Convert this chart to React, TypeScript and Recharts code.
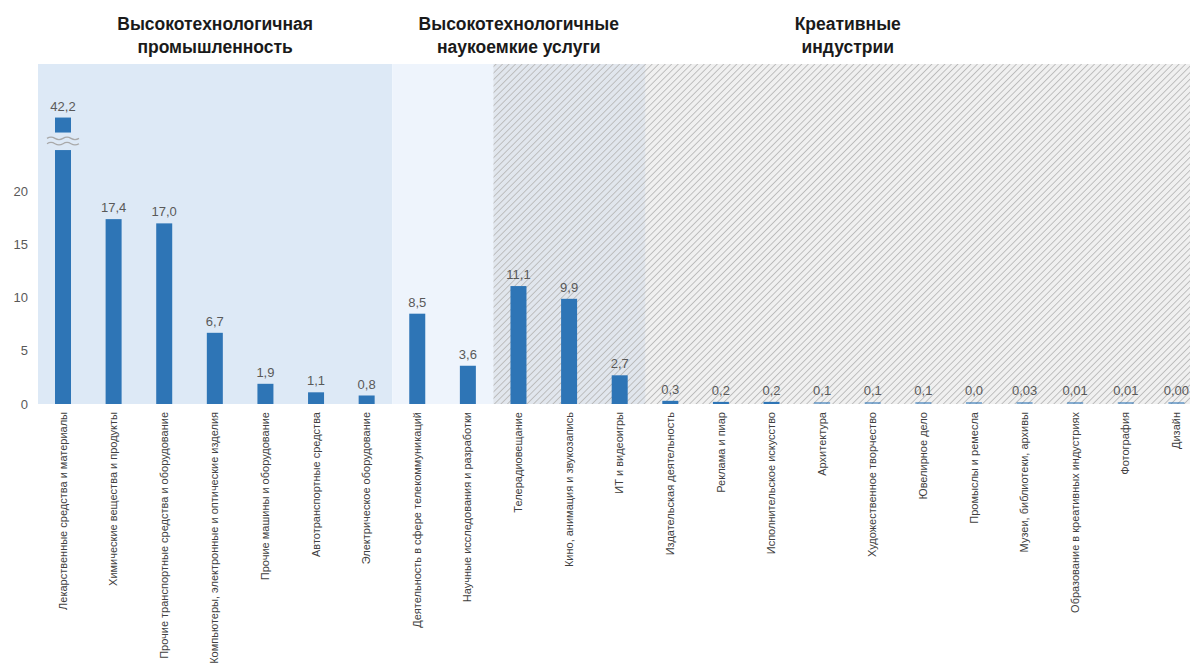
import { Bar, BarChart, LabelList, ReferenceArea, XAxis, YAxis } from 'recharts';

// categories, left to right
const categories = [
  'Лекарственные средства и материалы',
  'Химические вещества и продукты',
  'Прочие транспортные средства и оборудование',
  'Компьютеры, электронные и оптические изделия',
  'Прочие машины и оборудование',
  'Автотранспортные средства',
  'Электрическое оборудование',
  'Деятельность в сфере телекоммуникаций',
  'Научные исследования и разработки',
  'Телерадиовещание',
  'Кино, анимация и звукозапись',
  'ИТ и видеоигры',
  'Издательская деятельность',
  'Реклама и пиар',
  'Исполнительское искусство',
  'Архитектура',
  'Художественное творчество',
  'Ювелирное дело',
  'Промыслы и ремесла',
  'Музеи, библиотеки, архивы',
  'Образование в креативных индустриях',
  'Фотография',
  'Дизайн',
];

const values = [
  42.2, 17.4, 17.0, 6.7, 1.9, 1.1, 0.8, 8.5, 3.6, 11.1, 9.9, 2.7, 0.3, 0.2, 0.2, 0.1, 0.1, 0.1, 0.0, 0.03, 0.01, 0.01, 0.0,
];

const decimals = [1, 1, 1, 1, 1, 1, 1, 1, 1, 1, 1, 1, 1, 1, 1, 1, 1, 1, 1, 2, 2, 2, 2];

const yTicks = [0, 5, 10, 15, 20];

// group spans: index of first and last category
const groupIndustry = { first: 0, last: 6, title: ['Высокотехнологичная', 'промышленность'] };
const groupServices = { first: 7, last: 11, title: ['Высокотехнологичные', 'наукоемкие услуги'] };
const groupCreative = { first: 9, last: 22, title: ['Креативные', 'индустрии'] };

// axis break for the tall bar
const Y_MAX = 32;
const BREAK_LOW = 23.9;
const BREAK_BLOCK_BOTTOM = 25.55;
const BREAK_BLOCK_TOP = 26.96;
const WAVE_A = 25.0;
const WAVE_B = 24.5;

const data = categories.map((name, i) => ({ name, value: values[i] }));

const FONT = '"Liberation Sans", Arial, sans-serif';
const BAR_COLOR = '#2e75b6';

const CHART_W = 1202;
const CHART_H = 664;
const Y_AXIS_W = 38;
const TOP = 64;
const BAND = (CHART_W - Y_AXIS_W) / categories.length;

const fmt = (v: number, d: number) => v.toFixed(d).replace('.', ',');

function BrokenBar(props: any) {
  const { x, y, width, height, value } = props;
  const v = Array.isArray(value) ? value[1] : value;
  if (v <= Y_MAX) {
    // very small values come out as a faint hairline in the original
    const faint = v < 0.15;
    return <rect x={x} y={y} width={width} height={height} fill={BAR_COLOR} fillOpacity={faint ? 0.55 : 1} />;
  }
  const zeroY = y + height;
  const unit = height / v;
  const at = (val: number) => zeroY - val * unit;
  const wave = (cy: number) => {
    const x0 = x - 8;
    const x1 = x + width + 8;
    const w = (x1 - x0) / 4;
    return `M${x0},${cy} q${w / 2},-2.5 ${w},0 t${w},0 t${w},0 t${w},0`;
  };
  return (
    <g>
      <rect x={x} y={at(BREAK_LOW)} width={width} height={zeroY - at(BREAK_LOW)} fill={BAR_COLOR} />
      <rect
        x={x}
        y={at(BREAK_BLOCK_TOP)}
        width={width}
        height={at(BREAK_BLOCK_BOTTOM) - at(BREAK_BLOCK_TOP)}
        fill={BAR_COLOR}
      />
      <path d={wave(at(WAVE_A))} stroke="#a9a9a9" strokeWidth={1.3} fill="none" />
      <path d={wave(at(WAVE_B))} stroke="#a9a9a9" strokeWidth={1.3} fill="none" />
    </g>
  );
}

function ValueLabel(props: any) {
  const vb = props.viewBox ?? props;
  const { x, y, width, height } = vb;
  const idx = props.index;
  const v = values[idx];
  let top = y;
  if (v > Y_MAX) {
    const zeroY = y + height;
    top = zeroY - BREAK_BLOCK_TOP * (height / v);
  }
  return (
    <text
      x={x + width / 2}
      y={top - 7}
      textAnchor="middle"
      fill="#595959"
      fontSize={13}
      fontFamily={FONT}
    >
      {fmt(v, decimals[idx])}
    </text>
  );
}

function CategoryTick(props: any) {
  const { x, y, payload } = props;
  return (
    <text
      x={x}
      y={y}
      transform={`rotate(-90, ${x}, ${y})`}
      textAnchor="end"
      dy="0.3em"
      fill="#404040"
      fontSize={11}
      fontFamily={FONT}
    >
      {payload.value}
    </text>
  );
}

function Header({ group }: { group: { first: number; last: number; title: string[] } }) {
  const cx = Y_AXIS_W + (BAND * (group.first + group.last + 1)) / 2;
  return (
    <div
      style={{
        position: 'absolute',
        left: cx - 160,
        top: 13,
        width: 320,
        textAlign: 'center',
        fontFamily: FONT,
        fontWeight: 700,
        fontSize: 17.5,
        lineHeight: '23px',
        color: '#1a1a1a',
      }}
    >
      {group.title.map((t) => (
        <div key={t}>{t}</div>
      ))}
    </div>
  );
}

export default function App() {
  return (
    <div
      style={{
        position: 'absolute',
        left: 0,
        top: 0,
        width: 1190,
        height: 664,
        overflow: 'hidden',
        background: '#fff',
      }}
    >
      <BarChart width={CHART_W} height={CHART_H} data={data} margin={{ top: TOP, right: 0, left: 0, bottom: 0 }}>
        <defs>
          <pattern id="hatch" width={4.6} height={4.6} patternUnits="userSpaceOnUse" patternTransform="rotate(45)">
            <rect width={4.6} height={4.6} fill="rgba(110,110,110,0.1)" />
            <line x1={0} y1={0} x2={0} y2={4.6} stroke="#b9b9b9" strokeWidth={1.8} />
          </pattern>
        </defs>
        <ReferenceArea
          x1={categories[groupIndustry.first]}
          x2={categories[groupIndustry.last]}
          fill="#dde9f6"
          fillOpacity={1}
          stroke="none"
        />
        <ReferenceArea
          x1={categories[groupServices.first]}
          x2={categories[groupServices.last]}
          fill="#eef4fc"
          fillOpacity={1}
          stroke="none"
        />
        <ReferenceArea
          x1={categories[groupCreative.first]}
          x2={categories[groupCreative.last]}
          fill="url(#hatch)"
          fillOpacity={1}
          stroke="none"
        />
        <XAxis
          dataKey="name"
          interval={0}
          height={CHART_H - TOP - 340}
          axisLine={false}
          tickLine={false}
          tick={<CategoryTick />}
        />
        <YAxis
          width={Y_AXIS_W}
          domain={[0, Y_MAX]}
          allowDataOverflow
          ticks={yTicks}
          axisLine={false}
          tickLine={false}
          tickMargin={4}
          tick={{ fill: '#595959', fontSize: 13, fontFamily: FONT }}
        />
        <Bar dataKey="value" barSize={16} fill={BAR_COLOR} minPointSize={2} shape={BrokenBar} isAnimationActive={false}>
          <LabelList dataKey="value" content={ValueLabel} />
        </Bar>
      </BarChart>
      <Header group={groupIndustry} />
      <Header group={groupServices} />
      <Header group={groupCreative} />
    </div>
  );
}
